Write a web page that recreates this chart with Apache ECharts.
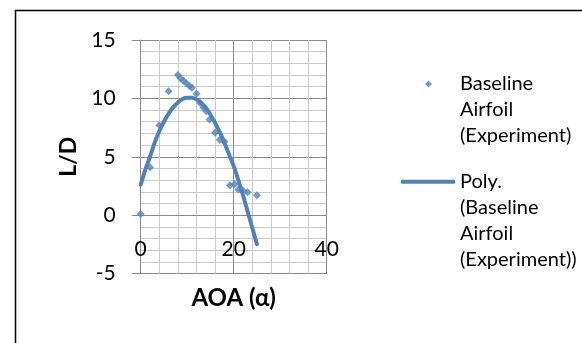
<!DOCTYPE html>
<html>
<head>
<meta charset="utf-8">
<script src="https://cdn.jsdelivr.net/npm/echarts@6/dist/echarts.min.js"></script>
<style>
  html, body { margin: 0; padding: 0; background: #ffffff; }
  #chart { width: 582px; height: 343px; }
</style>
</head>
<body>
<div id="chart"></div>
<script>
// Measured lift-to-drag ratio against angle of attack
var aoa = [0, 2, 4, 6, 8, 8.6, 9.2, 9.8, 10.5, 11, 12, 12.8, 13.5, 14.1, 14.8, 16, 17, 18, 19.2, 20.2, 21, 22, 23, 25];
var ld  = [0.1, 4.1, 7.7, 10.6, 12.0, 11.7, 11.5, 11.3, 11.05, 10.9, 10.4, 9.6, 9.2, 8.9, 8.2, 7.05, 6.45, 6.3, 2.55, 2.65, 2.2, 2.1, 1.95, 1.7];

// Polynomial trendline through the measurements
var trendAoa = [0, 1, 2, 3, 4, 5, 6, 7, 8, 9, 10, 11, 12, 13, 14, 15, 16, 17, 18, 19, 20, 21, 22, 23, 24, 25];
var trendLd  = [2.6, 3.9, 5.0, 6.2, 7.2, 8.0, 8.7, 9.25, 9.65, 9.95, 10.05, 10.05, 9.9, 9.6, 9.2, 8.6, 7.9, 7.1, 6.2, 5.2, 4.2, 3.0, 1.7, 0.3, -1.1, -2.5];

// Axis settings
var xTicks = { min: 0, max: 40, step: 20 };
var yTicks = { min: -5, max: 15, step: 5 };

var seriesNames = ['Baseline Airfoil (Experiment)', 'Poly. (Baseline Airfoil (Experiment))'];
var legendLines = {
  'Baseline Airfoil (Experiment)': ['Baseline', 'Airfoil', '(Experiment)'],
  'Poly. (Baseline Airfoil (Experiment))': ['Poly.', '(Baseline', 'Airfoil', '(Experiment))']
};

function zip(xs, ys) {
  var out = [];
  for (var i = 0; i < xs.length; i++) out.push([xs[i], ys[i]]);
  return out;
}

// Legend text: blank lines in front keep the icon level with the first line
function legendText(name) {
  var lines = legendLines[name];
  var pad = [];
  for (var i = 1; i < lines.length; i++) pad.push('');
  return pad.concat(lines).join('\n');
}

var blue = '#4f81bd';
var majorGrid = '#8a8a8a';
var minorGrid = '#c9c9c9';
var font = 'Lato, "Open Sans", sans-serif';

var gridTop = 40, gridBottom = 69.5;
var chartHeight = 343;
// distance from the bottom of the plot up to the zero line
var plotHeight = chartHeight - gridTop - gridBottom;
var zeroShift = plotHeight * (0 - yTicks.min) / (yTicks.max - yTicks.min);

var chart = echarts.init(document.getElementById('chart'), null, { renderer: 'canvas' });

chart.setOption({
  backgroundColor: '#ffffff',
  animation: false,
  textStyle: { fontFamily: font, color: '#000000' },
  graphic: [{
    type: 'rect',
    shape: { x: 15.5, y: 10.5, width: 600, height: 400 },
    style: { fill: 'none', stroke: '#000000', lineWidth: 1.5 },
    silent: true,
    z: 100
  }],
  grid: {
    left: 140.7, right: 255.3, top: gridTop, bottom: gridBottom,
    containLabel: false,
    outerBoundsMode: 'none'
  },
  legend: [{
    data: [{ name: seriesNames[0], icon: 'diamond' }],
    left: 425, top: 19, padding: 0,
    itemWidth: 7, itemHeight: 7,
    formatter: legendText,
    textStyle: { fontFamily: font, fontSize: 20, lineHeight: 26, color: '#000000', padding: [0, 0, 0, 23] },
    selectedMode: false
  }, {
    data: [{ name: seriesNames[1], icon: 'roundRect' }],
    left: 401, top: 90.7, padding: 0,
    itemWidth: 54, itemHeight: 4,
    itemStyle: { color: blue },
    formatter: legendText,
    textStyle: { fontFamily: font, fontSize: 20, lineHeight: 26, color: '#000000' },
    selectedMode: false
  }],
  xAxis: {
    type: 'value',
    min: xTicks.min, max: xTicks.max, interval: xTicks.step,
    offset: -zeroShift,
    name: 'AOA (α)', nameLocation: 'middle', nameGap: 71,
    nameTextStyle: { fontFamily: font, fontSize: 24, fontWeight: 'bold', color: '#000000' },
    axisLine: { show: true, onZero: false, lineStyle: { color: majorGrid, width: 1 } },
    axisTick: { show: false },
    axisLabel: { fontSize: 21, color: '#000000', margin: 24, fontFamily: font },
    splitLine: { show: true, lineStyle: { color: majorGrid, width: 1 } },
    minorTick: { show: false, splitNumber: 5 },
    minorSplitLine: { show: true, lineStyle: { color: minorGrid, width: 1 } }
  },
  yAxis: {
    type: 'value',
    min: yTicks.min, max: yTicks.max, interval: yTicks.step,
    name: 'L/D', nameLocation: 'middle', nameGap: 61, nameRotate: 90,
    nameTextStyle: { fontFamily: font, fontSize: 23, fontWeight: 'bold', color: '#000000' },
    axisLine: { show: true, onZero: false, lineStyle: { color: majorGrid, width: 1 } },
    axisTick: { show: true, length: 9, inside: false, lineStyle: { color: majorGrid } },
    axisLabel: { fontSize: 21, color: '#000000', margin: 25, fontFamily: font },
    splitLine: { show: true, lineStyle: { color: majorGrid, width: 1 } },
    minorTick: { show: false, splitNumber: 5 },
    minorSplitLine: { show: true, lineStyle: { color: minorGrid, width: 1 } }
  },
  series: [{
    name: seriesNames[0],
    type: 'scatter',
    symbol: 'diamond',
    symbolSize: 8,
    itemStyle: { color: blue },
    data: zip(aoa, ld),
    z: 3
  }, {
    name: seriesNames[1],
    type: 'line',
    showSymbol: false,
    symbol: 'none',
    smooth: 0.4,
    lineStyle: { color: blue, width: 4, cap: 'round', join: 'round' },
    itemStyle: { color: blue },
    data: zip(trendAoa, trendLd),
    z: 4
  }]
});
</script>
</body>
</html>
